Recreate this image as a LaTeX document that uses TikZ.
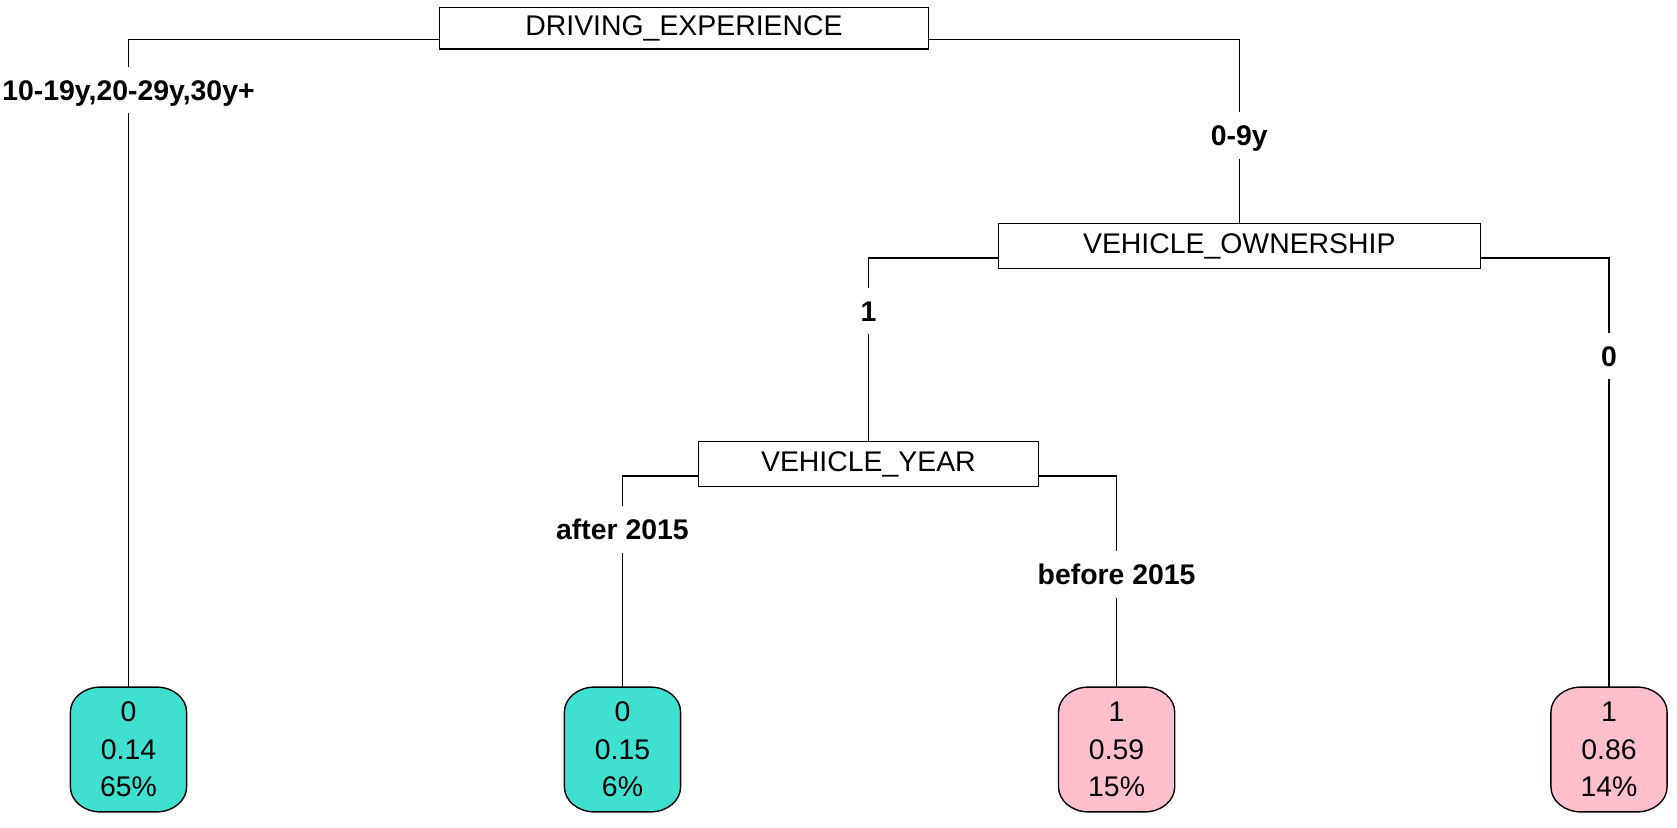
\documentclass[tikz,border=0pt]{standalone}
\usepackage{fontspec}
\setmainfont{Liberation Sans}
\usetikzlibrary{calc,backgrounds}
\definecolor{leafgreen}{HTML}{40E0D0}
\definecolor{leafpink}{HTML}{FFC0CB}
\begin{document}
\begin{tikzpicture}[x=0.5pt,y=-0.5pt,
  every node/.style={font=\fontsize{14.2}{18.7}\selectfont},
  split/.style={draw, line width=0.7pt, fill=white, minimum height=21pt, inner sep=0pt},
  leaf/.style={minimum width=57.7pt, minimum height=62pt, align=center, inner sep=0pt},
  lab/.style={fill=white, font=\bfseries\fontsize{14.2}{18.7}\selectfont, text height=10.2pt, text depth=0pt, inner ysep=6.6pt, inner xsep=1pt},
  edge/.style={line width=0.7pt}]
\useasboundingbox (0,0) rectangle (1677,828);
% split nodes
\node[split, minimum width=244.4pt, minimum height=20.9pt] (de) at (684,28.3) {DRIVING\_EXPERIENCE};
\node[split, minimum width=241pt, minimum height=22.4pt] (vo) at (1239.3,246) {VEHICLE\_OWNERSHIP};
\node[split, minimum width=170pt, minimum height=22.4pt] (vy) at (868.4,464) {VEHICLE\_YEAR};
% leaves
\node[leaf] (l1) at (128.5,749.5) {0\\0.14\\65\%};
\node[leaf] (l2) at (622.5,749.5) {0\\0.15\\6\%};
\node[leaf] (l3) at (1116.6,749.5) {1\\0.59\\15\%};
\node[leaf] (l4) at (1609,749.5) {1\\0.86\\14\%};
\begin{scope}[on background layer]
\foreach \n/\c in {l1/leafgreen,l2/leafgreen,l3/leafpink,l4/leafpink}{
  \draw[line width=0.7pt, fill=\c]
    ([yshift=-12.5pt]\n.north west) arc[start angle=180,end angle=90,x radius=15pt,y radius=12.5pt]
    -- ([xshift=-15pt]\n.north east) arc[start angle=90,end angle=0,x radius=15pt,y radius=12.5pt]
    -- ([yshift=12.5pt]\n.south east) arc[start angle=0,end angle=-90,x radius=15pt,y radius=12.5pt]
    -- ([xshift=15pt]\n.south west) arc[start angle=270,end angle=180,x radius=15pt,y radius=12.5pt]
    -- cycle;
}
\end{scope}
% edges
\draw[edge] ($(de.south west)!0.24!(de.north west)$) -| (l1.north);
\draw[edge] ($(de.south east)!0.24!(de.north east)$) -| (vo.north);
\draw[edge] ($(vo.south west)!0.24!(vo.north west)$) -| (vy.north);
\draw[edge] ($(vo.south east)!0.24!(vo.north east)$) -| (l4.north);
\draw[edge] ($(vy.south west)!0.24!(vy.north west)$) -| (l2.north);
\draw[edge] ($(vy.south east)!0.24!(vy.north east)$) -| (l3.north);
% edge labels
\node[lab] (e1) at (128.5,90) {10-19y,20-29y,30y+};
\node[lab] (e2) at (1239.3,135.8) {0-9y};
\node[lab] (e3) at (868.4,311) {1};
\node[lab] (e4) at (1609,356) {0};
\node[lab] (e5) at (622.5,529.4) {after 2015};
\node[lab] (e6) at (1116.6,574.3) {before 2015};
\end{tikzpicture}
\end{document}
